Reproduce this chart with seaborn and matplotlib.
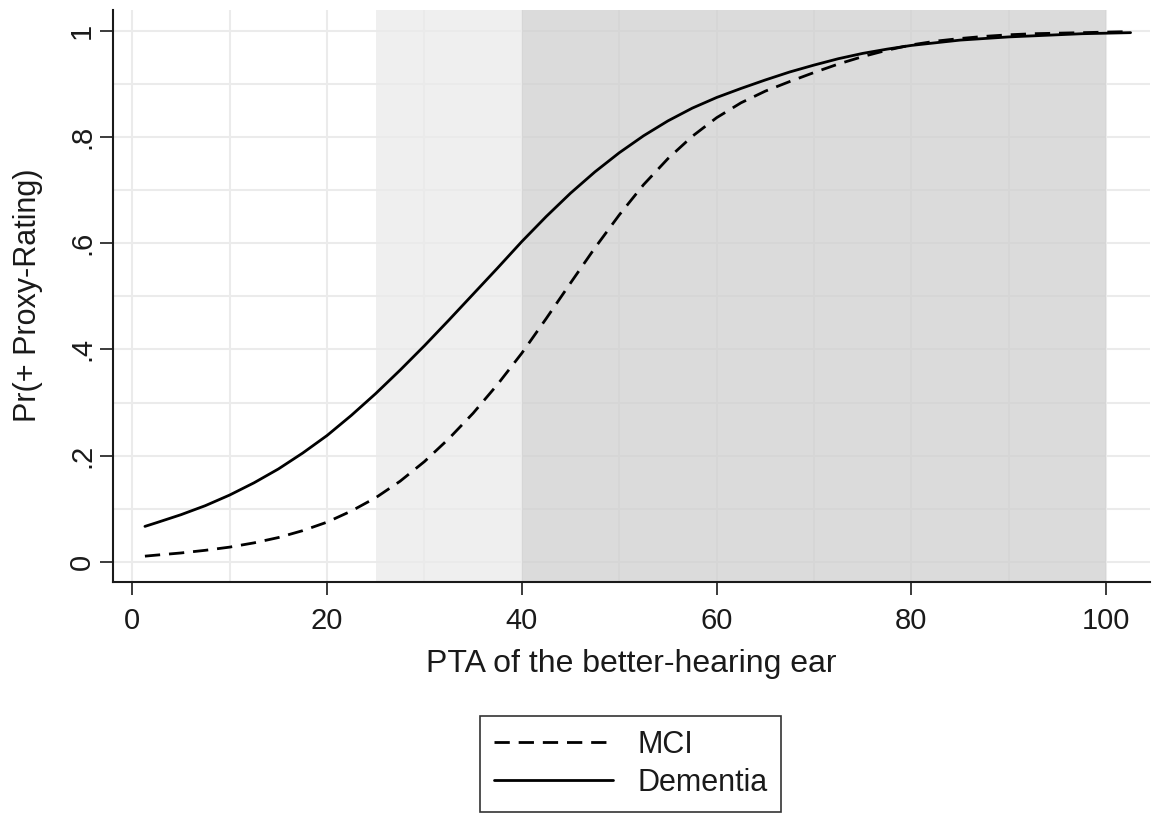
import numpy as np
import pandas as pd
import matplotlib
matplotlib.use("Agg")
import matplotlib.pyplot as plt
from matplotlib.lines import Line2D
import seaborn as sns

# ---- data ----
pta = [1.3, 2.5, 5, 7.5, 10, 12.5, 15, 17.5, 20, 22.5, 25, 27.5, 30, 32.5, 35, 37.5,
       40, 42.5, 45, 47.5, 50, 52.5, 55, 57.5, 60, 62.5, 65, 67.5, 70, 72.5, 75,
       77.5, 80, 82.5, 85, 87.5, 90, 92.5, 95, 97.5, 100, 102.5]
mci = [0.011, 0.013, 0.017, 0.022, 0.028, 0.036, 0.046, 0.059, 0.075, 0.096, 0.121,
       0.152, 0.189, 0.232, 0.280, 0.334, 0.393, 0.458, 0.525, 0.591, 0.653, 0.710,
       0.759, 0.801, 0.836, 0.864, 0.886, 0.904, 0.921, 0.937, 0.951, 0.963, 0.973,
       0.980, 0.985, 0.989, 0.992, 0.994, 0.995, 0.996, 0.997, 0.998]
dementia = [0.067, 0.074, 0.089, 0.106, 0.126, 0.149, 0.175, 0.205, 0.238, 0.276,
            0.317, 0.361, 0.407, 0.455, 0.504, 0.553, 0.603, 0.650, 0.694, 0.734,
            0.770, 0.802, 0.830, 0.854, 0.874, 0.891, 0.907, 0.922, 0.935, 0.947,
            0.957, 0.965, 0.972, 0.977, 0.982, 0.985, 0.988, 0.990, 0.992, 0.994,
            0.995, 0.996]
groups = ["MCI", "Dementia"]
light_band = (25, 40)
dark_band = (40, 100)
xticks = [0, 20, 40, 60, 80, 100]
yticks = [0, 0.2, 0.4, 0.6, 0.8, 1.0]
ytick_labels = ["0", ".2", ".4", ".6", ".8", "1"]

df = pd.DataFrame({
    "PTA": pta * 2,
    "Pr": mci + dementia,
    "Group": ["MCI"] * len(pta) + ["Dementia"] * len(pta),
})

sns.set_theme(style="white")
plt.rcParams["font.family"] = ["Liberation Sans", "DejaVu Sans"]

fig = plt.figure(figsize=(11.57, 8.15), dpi=100)
ax = fig.add_axes([0.0979, 0.2863, 0.994 - 0.0979, 0.9883 - 0.2863])

# grid
for gx in range(0, 101, 10):
    ax.axvline(gx, color="#ebebeb", lw=1.5, zorder=0)
for gy in np.arange(0, 1.01, 0.1):
    ax.axhline(gy, color="#ebebeb", lw=1.5, zorder=0)

# shaded bands
ax.axvspan(*light_band, color="#eaeaea", alpha=0.75, lw=0, zorder=1)
ax.axvspan(*dark_band, color="#d0d0d0", alpha=0.75, lw=0, zorder=1)

sns.lineplot(data=df, x="PTA", y="Pr", hue="Group", style="Group",
             hue_order=groups, style_order=groups,
             palette={"MCI": "black", "Dementia": "black"},
             dashes={"MCI": (5.5, 3.2), "Dementia": ""},
             linewidth=2.0, ax=ax, zorder=3, legend=False)

ax.set_xlim(-1.95, 104.5)
ax.set_ylim(-0.037, 1.0395)
ax.set_xticks(xticks)
ax.set_xticklabels([str(t) for t in xticks])
ax.set_yticks(yticks)
ax.set_yticklabels(ytick_labels, rotation=90, va="center")

for s in ["top", "right"]:
    ax.spines[s].set_visible(False)
for s in ["left", "bottom"]:
    ax.spines[s].set_color("#1a1a1a")
    ax.spines[s].set_linewidth(1.5)

ax.tick_params(axis="both", which="major", direction="out", length=9.5, width=1.2,
               color="#1a1a1a", labelsize=21, labelcolor="#1a1a1a",
               bottom=True, left=True)
ax.tick_params(axis="x", pad=9)
ax.tick_params(axis="y", pad=3)

ax.set_xlabel("PTA of the better-hearing ear", fontsize=23, color="#1a1a1a", labelpad=10)
ax.set_ylabel("Pr(+ Proxy-Rating)", fontsize=22, color="#1a1a1a", labelpad=18)

handles = [Line2D([], [], color="black", lw=2.0, linestyle=(0, (5.5, 3.2))),
           Line2D([], [], color="black", lw=2.0)]
leg = fig.legend(handles, groups, loc="center", bbox_to_anchor=(0.545, 0.0626),
                 fontsize=22, frameon=True, fancybox=False, handlelength=3.9,
                 handletextpad=0.8, borderpad=0.45, labelspacing=0.25,
                 edgecolor="black")
leg.get_frame().set_linewidth(1.2)
for t in leg.get_texts():
    t.set_color("#1a1a1a")

fig.savefig("out.png", dpi=100)
